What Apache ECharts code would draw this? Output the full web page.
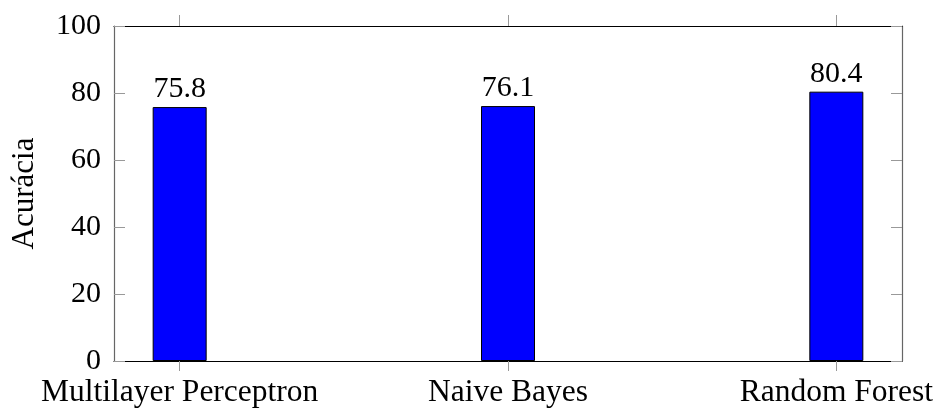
<!DOCTYPE html>
<html>
<head>
<meta charset="utf-8">
<script src="https://cdn.jsdelivr.net/npm/echarts@6/dist/echarts.min.js"></script>
<style>
  html, body { margin: 0; padding: 0; background: #fff; }
  #chart { width: 937px; height: 410px; }
</style>
</head>
<body>
<div id="chart"></div>
<script>
var categories = ['Multilayer Perceptron', 'Naive Bayes', 'Random Forest'];
var accuracy = [75.8, 76.1, 80.4];
var catPos = [0, 1, 2];

var serif = '"Liberation Serif", "DejaVu Serif", serif';
var myChart = echarts.init(document.getElementById('chart'));

var option = {
    animation: false,
    grid: { left: 114, right: 35, top: 26, bottom: 49 },
    xAxis: [{
        type: 'value',
        position: 'bottom',
        min: -0.2,
        max: 2.2,
        axisLine: { show: true, onZero: false, lineStyle: { color: '#000', width: 1.2 } },
        axisTick: { show: true, customValues: catPos, length: 10, lineStyle: { color: '#999' } },
        axisLabel: {
            customValues: catPos,
            margin: 16,
            fontFamily: serif,
            fontSize: 31.5,
            color: '#000',
            formatter: function (v) { return categories[v]; }
        },
        splitLine: { show: false }
    }, {
        type: 'value',
        position: 'top',
        min: -0.2,
        max: 2.2,
        axisLine: { show: true, onZero: false, lineStyle: { color: '#000', width: 1.2 } },
        axisTick: { show: true, customValues: catPos, length: 11, lineStyle: { color: '#999' } },
        axisLabel: { show: false },
        splitLine: { show: false }
    }],
    yAxis: [{
        type: 'value',
        position: 'left',
        min: 0,
        max: 100,
        interval: 20,
        name: 'Acurácia',
        nameLocation: 'middle',
        nameGap: 74,
        nameTextStyle: { fontFamily: serif, fontSize: 31, color: '#000' },
        axisLine: { show: true, onZero: false, lineStyle: { color: '#666', width: 1.2 } },
        axisTick: { show: true, inside: true, length: 11, lineStyle: { color: '#999' } },
        axisLabel: { margin: 13, fontFamily: serif, fontSize: 30, color: '#000' },
        splitLine: { show: false }
    }, {
        type: 'value',
        position: 'right',
        min: 0,
        max: 100,
        interval: 20,
        axisLine: { show: true, onZero: false, lineStyle: { color: '#666', width: 1.2 } },
        axisTick: { show: true, inside: true, length: 11, lineStyle: { color: '#999' } },
        axisLabel: { show: false },
        splitLine: { show: false }
    }],
    series: [{
        name: 'Acurácia',
        type: 'bar',
        xAxisIndex: 0,
        yAxisIndex: 0,
        barWidth: 54,
        data: catPos.map(function (p, i) { return [p, accuracy[i]]; }),
        itemStyle: { color: '#0000ff', borderColor: '#000', borderWidth: 1 },
        label: {
            show: true,
            position: 'top',
            distance: 3,
            fontFamily: serif,
            fontSize: 30,
            color: '#000',
            formatter: function (p) { return p.value[1].toFixed(1); }
        }
    }]
};
myChart.setOption(option);
</script>
</body>
</html>
